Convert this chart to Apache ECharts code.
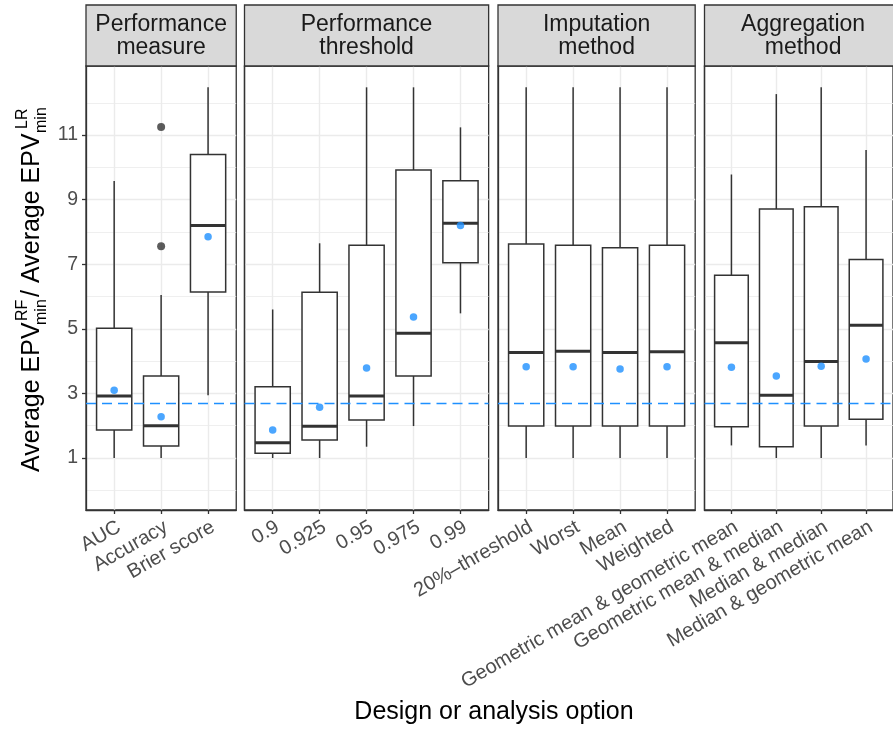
<!DOCTYPE html>
<html>
<head>
<meta charset="utf-8">
<script src="https://cdn.jsdelivr.net/npm/echarts@6/dist/echarts.min.js"></script>
<style>
html,body{margin:0;padding:0;background:#fff;}
#chart{width:893px;height:729px;}
</style>
</head>
<body>
<div id="chart"></div>
<script>
// ---- data ----
const facetTitles = ['Performance\nmeasure', 'Performance\nthreshold', 'Imputation\nmethod', 'Aggregation\nmethod'];
const categories = [
  ['AUC', 'Accuracy', 'Brier score'],
  ['0.9', '0.925', '0.95', '0.975', '0.99'],
  ['20%\u2013threshold', 'Worst', 'Mean', 'Weighted'],
  ['Geometric mean & geometric mean', 'Geometric mean & median', 'Median & median', 'Median & geometric mean']
];
const whiskerLow = [
  [1.00, 1.00, 2.94],
  [1.00, 1.00, 1.35, 1.99, 5.48],
  [1.00, 1.00, 1.00, 1.00],
  [1.39, 1.00, 1.00, 1.39]
];
const quartile1 = [
  [1.87, 1.37, 6.14],
  [1.15, 1.56, 2.18, 3.54, 7.05],
  [1.99, 1.99, 1.99, 1.99],
  [1.97, 1.35, 1.99, 2.20]
];
const medians = [
  [2.92, 2.00, 8.20],
  [1.47, 1.98, 2.92, 4.86, 8.27],
  [4.27, 4.31, 4.27, 4.29],
  [4.57, 2.94, 3.99, 5.11]
];
const quartile3 = [
  [5.02, 3.54, 10.40],
  [3.21, 6.13, 7.59, 9.92, 9.59],
  [7.63, 7.59, 7.51, 7.59],
  [6.66, 8.71, 8.78, 7.15]
];
const whiskerHigh = [
  [9.58, 6.05, 12.48],
  [5.60, 7.65, 12.48, 12.48, 11.24],
  [12.48, 12.48, 12.48, 12.48],
  [9.78, 12.27, 12.48, 10.54]
];
const means = [
  [3.10, 2.28, 7.85],
  [1.87, 2.57, 3.79, 5.37, 8.20],
  [3.83, 3.83, 3.76, 3.83],
  [3.81, 3.54, 3.84, 4.07]
];
// outliers: [facet, category index, value]
const outliers = [[0, 1, 11.25], [0, 1, 7.56]];
const referenceLine = 2.69;
const yMajorTicks = [1, 3, 5, 7, 9, 11];
const yMinorLines = [0, 2, 4, 6, 8, 10, 12];
const yRange = [-0.61, 13.14];

// ---- layout ----
const FONT = "'Liberation Sans', Arial, Helvetica, sans-serif";
const panelTop = 66, panelBottom = 510;
const unitPx = 46.95;
const panelLefts = [86, 244.5, 498, 704.5];

const chart = echarts.init(document.getElementById('chart'), null, {renderer: 'canvas'});

const grids = [], xAxes = [], yAxes = [], series = [], graphics = [];

function renderBox(params, api) {
  const x = api.value(0);
  const lo = api.coord([x, api.value(1)]);
  const q1 = api.coord([x, api.value(2)]);
  const md = api.coord([x, api.value(3)]);
  const q3 = api.coord([x, api.value(4)]);
  const hi = api.coord([x, api.value(5)]);
  const hw = api.size([0.75, 0])[0] / 2;
  const cx = lo[0];
  return {
    type: 'group',
    children: [
      {type: 'line', shape: {x1: cx, y1: lo[1], x2: cx, y2: q1[1]}, style: {stroke: '#333333', lineWidth: 1.5}},
      {type: 'line', shape: {x1: cx, y1: q3[1], x2: cx, y2: hi[1]}, style: {stroke: '#333333', lineWidth: 1.5}},
      {type: 'rect', shape: {x: cx - hw, y: q3[1], width: 2 * hw, height: q1[1] - q3[1]},
        style: {fill: '#ffffff', stroke: '#333333', lineWidth: 1.5}},
      {type: 'line', shape: {x1: cx - hw, y1: md[1], x2: cx + hw, y2: md[1]},
        style: {stroke: '#333333', lineWidth: 3}}
    ]
  };
}

categories.forEach((cats, f) => {
  const n = cats.length;
  const width = (n - 1 + 1.2) * unitPx;
  const idx = cats.map((c, i) => i);
  grids.push({
    left: panelLefts[f], top: panelTop, width: width, height: panelBottom - panelTop,
    show: true, borderColor: '#333333', borderWidth: 1.3, backgroundColor: 'transparent', containLabel: false
  });
  xAxes.push({
    type: 'value', gridIndex: f, min: -0.6, max: n - 0.4, position: 'bottom',
    axisLine: {show: true, onZero: false, lineStyle: {color: '#333333', width: 1.3}},
    splitLine: {show: false},
    axisTick: {show: true, customValues: idx, length: 4, lineStyle: {color: '#333333', width: 1.3}},
    axisLabel: {
      show: true, customValues: idx, rotate: 30, align: 'right', verticalAlign: 'top',
      margin: 7, color: '#4D4D4D', fontSize: 20, fontFamily: FONT,
      formatter: (v) => cats[Math.round(v)] || ''
    }
  });
  yAxes.push({
    type: 'value', gridIndex: f, min: yRange[0], max: yRange[1], position: 'left',
    axisLine: {show: true, onZero: false, lineStyle: {color: '#333333', width: 1.3}},
    splitLine: {show: false},
    axisTick: {show: f === 0, customValues: yMajorTicks, length: 4, lineStyle: {color: '#333333', width: 1.3}},
    axisLabel: {
      show: f === 0, customValues: yMajorTicks, margin: 8, color: '#4D4D4D', fontSize: 19.5, fontFamily: FONT,
      formatter: (v) => String(Math.round(v))
    }
  });
  // gridlines (drawn from axis values)
  const gl = [];
  yMinorLines.forEach(v => gl.push({yAxis: v, lineStyle: {color: '#EBEBEB', width: 0.8, type: 'solid'}}));
  yMajorTicks.forEach(v => gl.push({yAxis: v, lineStyle: {color: '#EBEBEB', width: 1.4, type: 'solid'}}));
  idx.forEach(v => gl.push({xAxis: v, lineStyle: {color: '#EBEBEB', width: 1.4, type: 'solid'}}));
  series.push({
    type: 'scatter', xAxisIndex: f, yAxisIndex: f, data: [[0, 1]], symbolSize: 0, silent: true, z: 0,
    markLine: {z: 0, silent: true, symbol: ['none', 'none'], label: {show: false}, animation: false, data: gl}
  });
  // boxes
  series.push({
    type: 'custom', xAxisIndex: f, yAxisIndex: f, z: 2, silent: true,
    renderItem: renderBox,
    encode: {x: 0, y: [1, 2, 3, 4, 5]},
    data: idx.map(i => [i, whiskerLow[f][i], quartile1[f][i], medians[f][i], quartile3[f][i], whiskerHigh[f][i]])
  });
  // outliers
  const outs = outliers.filter(o => o[0] === f).map(o => [o[1], o[2]]);
  if (outs.length) {
    series.push({
      type: 'scatter', xAxisIndex: f, yAxisIndex: f, z: 3, silent: true,
      symbolSize: 8, itemStyle: {color: '#333333'}, data: outs
    });
  }
  // reference line + means
  series.push({
    type: 'scatter', xAxisIndex: f, yAxisIndex: f, z: 6, silent: true,
    symbolSize: 7.5, itemStyle: {color: '#1E90FF'},
    data: idx.map(i => [i, means[f][i]]),
    markLine: {
      z: 4, silent: true, symbol: ['none', 'none'], label: {show: false}, animation: false,
      data: [{yAxis: referenceLine}],
      lineStyle: {color: '#1E90FF', width: 1.4, type: [10, 6]}
    }
  });
  // strip
  graphics.push({
    type: 'rect', silent: true,
    shape: {x: panelLefts[f], y: 5, width: width, height: panelTop - 5},
    style: {fill: '#D9D9D9', stroke: '#333333', lineWidth: 1.3}, z: 10
  });
  graphics.push({
    type: 'text', x: panelLefts[f] + width / 2, y: 36, silent: true, z: 11,
    style: {text: facetTitles[f], fill: '#1A1A1A', font: '23px ' + FONT, align: 'center', verticalAlign: 'middle', lineHeight: 23}
  });
});

// x axis title
graphics.push({
  type: 'text', x: 494, y: 712, silent: true,
  style: {text: 'Design or analysis option', fill: '#000000', font: '25px ' + FONT, align: 'center', verticalAlign: 'middle'}
});

// y axis title with super/subscripts (rotated)
const yTitleParts = [
  {t: 'Average EPV', size: 25, x: 32, y: 472},
  {t: 'RF', size: 16, x: 22.5, y: 321},
  {t: 'min', size: 16, x: 42, y: 325},
  {t: '/', size: 25, x: 32, y: 297},
  {t: 'Average EPV', size: 25, x: 32, y: 283},
  {t: 'LR', size: 16, x: 22.5, y: 129},
  {t: 'min', size: 16, x: 42, y: 133}
];
yTitleParts.forEach(p => {
  graphics.push({
    type: 'text', x: p.x, y: p.y, rotation: Math.PI / 2, silent: true,
    style: {text: p.t, fill: '#000000', font: p.size + 'px ' + FONT, align: 'left', verticalAlign: 'middle'}
  });
});

chart.setOption({
  backgroundColor: '#ffffff',
  animation: false,
  grid: grids,
  xAxis: xAxes,
  yAxis: yAxes,
  series: series,
  graphic: {elements: graphics}
});
</script>
</body>
</html>
